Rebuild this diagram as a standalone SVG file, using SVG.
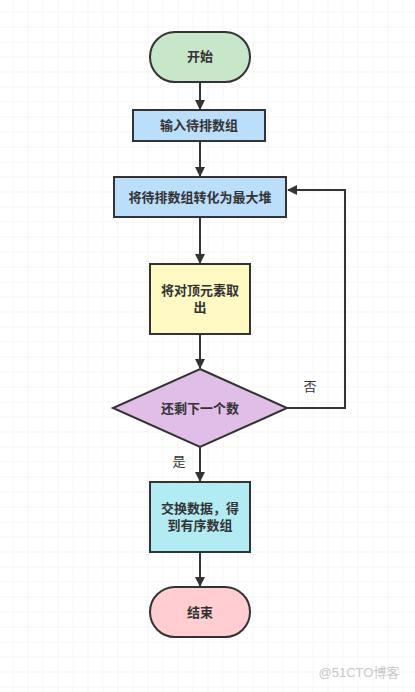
<svg xmlns="http://www.w3.org/2000/svg" width="415" height="692" viewBox="0 0 415 692">
<defs>
<pattern id="g" x="12" y="11" width="15" height="15" patternUnits="userSpaceOnUse">
<path d="M0 0H15M0 0V15" stroke="#ececec" stroke-width="1" fill="none"/>
</pattern>
<marker id="a" viewBox="0 0 10 10" refX="9" refY="5" markerWidth="5" markerHeight="5" orient="auto" markerUnits="strokeWidth">
<path d="M0 0L10 5L0 10z" fill="#333"/>
</marker>
</defs>
<style>
.n{stroke:#333;stroke-width:2}
.t{font-family:"Liberation Sans","Noto Sans CJK SC",sans-serif;font-size:13px;font-weight:bold;fill:#333;text-anchor:middle}
.c{fill:none;stroke:#333;stroke-width:2;marker-end:url(#a)}
</style>
<rect width="415" height="692" fill="#fff"/>
<rect x="0" y="0" width="415" height="692" fill="url(#g)" transform="translate(0.5 0.5)"/>
<g id="connectors">
<path class="c" d="M200 82V109"/>
<path class="c" d="M200 141V176"/>
<path class="c" d="M200 218V263"/>
<path class="c" d="M200 335V368"/>
<path class="c" d="M200 447V481"/>
<path class="c" d="M200 553V586"/>
<path class="c" d="M287 408H345V190H288"/>
<text class="t" x="310" y="391" style="font-weight:normal">否</text>
<text class="t" x="179" y="466" style="font-weight:normal">是</text>
</g>
<g id="start">
<rect class="n" x="150" y="32" width="100" height="50" rx="25" fill="#c8e6c9"/>
<text class="t" x="200" y="61">开始</text>
</g>
<g id="input">
<rect class="n" x="133" y="110" width="132" height="31" fill="#bbdefb"/>
<text class="t" x="199" y="130">输入待排数组</text>
</g>
<g id="heapify">
<rect class="n" x="114" y="177" width="172" height="40" fill="#bbdefb"/>
<text class="t" x="200" y="202">将待排数组转化为最大堆</text>
</g>
<g id="take">
<rect class="n" x="150" y="264" width="100" height="70" fill="#fff9c4"/>
<text class="t" x="200" y="295">将对顶元素取</text>
<text class="t" x="200" y="312">出</text>
</g>
<g id="decision">
<path class="n" d="M200 369L287 408L200 447L113 408Z" fill="#e1bee7"/>
<text class="t" x="200" y="413">还剩下一个数</text>
</g>
<g id="swap">
<rect class="n" x="150" y="482" width="100" height="70" fill="#b2ebf2"/>
<text class="t" x="200" y="513">交换数据，得</text>
<text class="t" x="200" y="530">到有序数组</text>
</g>
<g id="end">
<rect class="n" x="150" y="587" width="100" height="50" rx="25" fill="#ffcdd2"/>
<text class="t" x="200" y="617">结束</text>
</g>
<text x="359" y="677" style="font-family:'Liberation Sans','Noto Sans CJK SC',sans-serif;font-size:13px;fill:#c8c8c8;text-anchor:middle">@51CTO博客</text>
</svg>
